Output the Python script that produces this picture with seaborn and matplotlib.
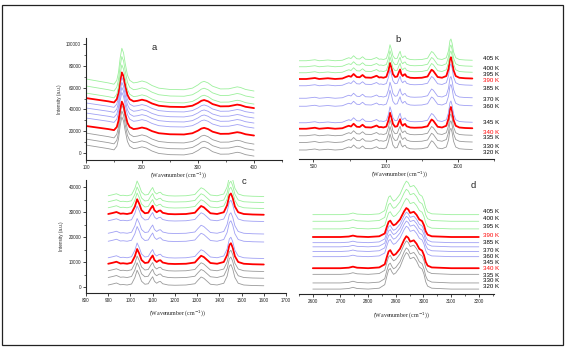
import numpy as np
import pandas as pd
import seaborn as sns
import matplotlib.pyplot as plt
from matplotlib.ticker import MultipleLocator
from matplotlib.patches import Rectangle

# temperaturas y colores de cada espectro
temps = [320, 330, 335, 340, 345, 360, 370, 385, 390, 395, 400, 405]
grupo = ['g', 'g', 'g', 'r', 'b', 'b', 'b', 'b', 'r', 'v', 'v', 'v']
colores = {'g': '#9a9a9a', 'r': '#ff0000', 'b': '#a0a0f4', 'v': '#9cf09c'}

# panel a: espectro de baja frecuencia (relativo a la linea base)
a_wn = [100, 120, 140, 150, 155, 158, 161, 164, 167, 170, 174, 178, 185, 192,
        200, 208, 218, 230, 250, 275, 290, 300, 306, 311, 318, 326, 340, 355,
        365, 370, 376, 385, 400]
a_int = [0, -1500, -3000, -4000, -1000, 5000, 16000, 23500, 20000, 12000, 3000,
         -1000, -3000, -2500, -1500, -2500, -5000, -7000, -8000, -8200, -7000,
         -4500, -2500, -1800, -3000, -5500, -7600, -7500, -6500, -6000, -6500,
         -8000, -9200]
a_offset = [7300, 12800, 18300, 24800, 32100, 36700, 41300, 45900, 50400,
            55000, 61500, 67900]
a_escala = [1.1, 1.1, 1.1, 0.95, 1.0, 1.0, 1.0, 1.0, 1.0, 1.1, 1.15, 1.2]

# paneles b y c: region 400-1600 cm-1
b_wn = [400, 450, 510, 540, 600, 650, 700, 730, 745, 760, 778, 800, 820, 840,
        860, 900, 920, 937, 955, 967, 985, 1005, 1020, 1030, 1040, 1050, 1065,
        1080, 1092, 1100, 1108, 1118, 1128, 1135, 1145, 1170, 1200, 1250, 1290,
        1305, 1318, 1330, 1345, 1360, 1390, 1420, 1435, 1445, 1452, 1460, 1470,
        1485, 1510, 1550, 1600]
b_int = [0, 0, 400, 0, 300, 0, 200, 900, 1200, 900, 2000, 800, 700, 1600, 600,
         500, 900, 1300, 600, 700, 500, 900, 3500, 6400, 4500, 2000, 800, 1000,
         2800, 3800, 2000, 1200, 1800, 1900, 1000, 500, 400, 500, 1000, 2500,
         3700, 3200, 2000, 800, 500, 1200, 4000, 8000, 8700, 7000, 3500, 1200,
         500, 300, 200]
b_offset = [300, 3300, 6000, 8800, 11200, 17800, 21000, 26000, 28700, 31200,
            33600, 36000]

# panel d: region C-H 2600-3200 cm-1
d_wn = [2600, 2700, 2730, 2745, 2760, 2800, 2840, 2860, 2868, 2874, 2880,
        2886, 2892, 2900, 2915, 2930, 2938, 2945, 2952, 2965, 2975, 2985,
        2995, 3002, 3008, 3015, 3030, 3100, 3200]
d_int = [0, 0, 200, 600, 200, 0, 300, 1500, 4500, 6500, 7000, 5800, 5000,
         5500, 7500, 11000, 12400, 11800, 10300, 10800, 9500, 7500, 6800, 5000,
         2500, 1000, 300, 0, 0]
d_offset = [0, 2500, 6000, 8500, 13200, 15300, 17200, 18900, 21200, 24500,
            27600, 30300]
d_escala = [1.2, 1.15, 1.1, 1.05, 1.0, 1.0, 1.0, 1.0, 0.95, 1.0, 1.05, 1.1]

sns.set_style('ticks')
plt.rcParams['font.family'] = ['Liberation Sans', 'DejaVu Sans']

W, H = 571, 351
fig = plt.figure(figsize=(W / 100, H / 100), dpi=100)


def caja(l, t, r, b):
    return [l / W, 1 - b / H, (r - l) / W, (b - t) / H]


def dibujar(ax, wn, inten, offsets, escala=None):
    if escala is None:
        escala = [1.0] * len(temps)
    for T, g, off, k in zip(temps, grupo, offsets, escala):
        df = pd.DataFrame({'wn': wn, 'I': np.array(inten) * k + off})
        sns.lineplot(data=df, x='wn', y='I', ax=ax, color=colores[g],
                     linewidth=1.3 if g == 'r' else 0.6, legend=False)
    ax.set_xlabel('')
    ax.set_ylabel('')


def estilo(ax, ylab=True):
    ax.tick_params(axis='both', which='major', labelsize=3.3, length=2,
                   width=0.6, pad=1.5, direction='out')
    ax.tick_params(axis='both', which='minor', length=1.2, width=0.5)
    for s in ['top', 'right']:
        ax.spines[s].set_visible(False)
    for s in ['left', 'bottom']:
        ax.spines[s].set_linewidth(0.8)
    if not ylab:
        ax.spines['left'].set_visible(False)
        ax.set_yticks([])


xlab = '(Wavenumber (cm$^{-1}$))'
fx = dict(fontsize=4.3, family='Liberation Serif')

# panel a
ax_a = fig.add_axes(caja(86, 38, 282, 160))
dibujar(ax_a, a_wn, a_int, a_offset, a_escala)
ax_a.set_xlim(100, 450)
ax_a.set_ylim(-6400, 105500)
ax_a.xaxis.set_minor_locator(MultipleLocator(50))
ax_a.yaxis.set_major_locator(MultipleLocator(20000))
ax_a.yaxis.set_minor_locator(MultipleLocator(10000))
ax_a.set_xticks([100, 200, 300, 400])
estilo(ax_a)
ax_a.set_ylabel('Intensity (a.u.)', fontsize=3.3, labelpad=3)

# panel b
ax_b = fig.add_axes(caja(299, 38, 494, 159))
dibujar(ax_b, b_wn, b_int, b_offset)
ax_b.set_xlim(400, 1750)
ax_b.set_ylim(-3300, 45100)
ax_b.set_xticks([500, 1000, 1500])
ax_b.xaxis.set_minor_locator(MultipleLocator(250))
estilo(ax_b, ylab=False)

# panel c
ax_c = fig.add_axes(caja(86, 180, 286, 293))
sel = [i for i, w in enumerate(b_wn) if w >= 900]
dibujar(ax_c, [b_wn[i] for i in sel], [b_int[i] for i in sel], b_offset)
ax_c.set_xlim(800, 1700)
ax_c.set_ylim(-2400, 42800)
ax_c.xaxis.set_major_locator(MultipleLocator(100))
ax_c.yaxis.set_major_locator(MultipleLocator(10000))
ax_c.yaxis.set_minor_locator(MultipleLocator(5000))
estilo(ax_c)
ax_c.set_ylabel('Intensity (a.u.)', fontsize=3.3, labelpad=3)

# panel d
ax_d = fig.add_axes(caja(299, 180, 494, 294))
dibujar(ax_d, d_wn, d_int, d_offset, d_escala)
ax_d.set_xlim(2550, 3255)
ax_d.set_ylim(-2000, 44400)
ax_d.xaxis.set_major_locator(MultipleLocator(100))
ax_d.xaxis.set_minor_locator(MultipleLocator(50))
estilo(ax_d, ylab=False)

# etiquetas de temperatura (posicion en pixeles de la figura)
pos_b = [153, 146, 138, 132, 122, 107, 100, 88, 81, 74, 68, 59]
pos_d = [287, 281, 275.5, 268.5, 262.5, 256, 250, 243, 235.5, 226, 218, 211]
for pos, x0 in [(pos_b, 483), (pos_d, 483)]:
    for T, g, y in zip(temps, grupo, pos):
        fig.text(x0 / W, 1 - y / H, f'{T} K', fontsize=4.4, va='center',
                 ha='left', color='#ff0000' if g == 'r' else 'black')

# titulos de eje x
fig.text(179 / W, 1 - 175 / H, xlab, ha='center', va='center', **fx)
fig.text(400 / W, 1 - 174 / H, xlab, ha='center', va='center', **fx)
fig.text(178 / W, 1 - 313 / H, xlab, ha='center', va='center', **fx)
fig.text(402 / W, 1 - 315 / H, xlab, ha='center', va='center', **fx)

# letras de panel
for letra, x, y in [('a', 154, 47), ('b', 398, 39), ('c', 244, 182), ('d', 473, 186)]:
    fig.text(x / W, 1 - y / H, letra, fontsize=6.8, ha='center', va='center')

# marco
fig.patches.append(Rectangle((2 / W, 1 - 345 / H), 561 / W, 340 / H,
                             transform=fig.transFigure, fill=False,
                             edgecolor='#222222', linewidth=0.9))

fig.savefig('out.png', dpi=100)
